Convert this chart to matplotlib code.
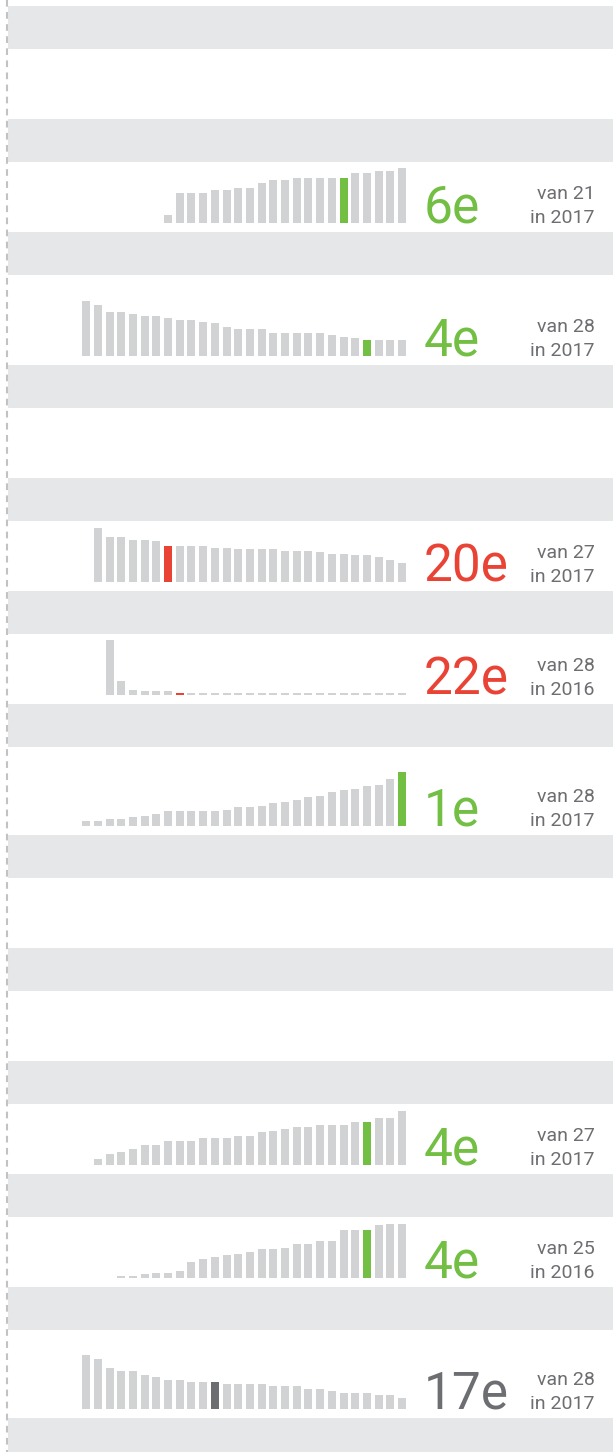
import matplotlib
matplotlib.use("Agg")
import matplotlib.pyplot as plt

# ---- data -----------------------------------------------------------------
# bar heights per ranking (relative units), leftmost = lowest rank number from the right
rank_6e_van21 = [23, 89, 89, 89, 98, 98, 104, 104, 119, 128, 128, 134, 134, 134, 134,
                 134, 149, 149, 155, 155, 164]
rank_4e_van28 = [164, 152, 131, 131, 125, 119, 119, 113, 107, 107, 101, 98, 86, 80, 80,
                 80, 68, 68, 68, 68, 68, 62, 56, 53, 47, 47, 47, 47]
rank_20e_van27 = [162, 135, 135, 126, 126, 123, 108, 108, 108, 108, 102, 102, 99, 99, 99,
                  99, 93, 93, 93, 90, 84, 84, 81, 81, 75, 66, 57]
rank_22e_van28 = [164, 41, 14, 11, 11, 11, 5, 5, 5, 5, 5, 5, 5, 5, 5, 5, 5, 5, 5, 5, 5,
                  5, 5, 5, 5, 5]
rank_1e_van28 = [14, 14, 20, 20, 26, 29, 35, 44, 44, 44, 44, 44, 47, 56, 56, 59, 68, 71,
                 77, 86, 89, 101, 107, 110, 119, 122, 140, 161]
rank_4e_van27 = [18, 33, 39, 48, 60, 60, 72, 72, 72, 81, 81, 81, 87, 87, 99, 102, 108,
                 114, 114, 120, 120, 120, 129, 129, 141, 141, 162]
rank_4e_van25 = [5, 5, 11, 14, 14, 20, 47, 56, 62, 68, 71, 77, 86, 86, 89, 101, 101, 110,
                 110, 143, 143, 143, 158, 161, 161]
rank_17e_van28 = [161, 149, 122, 113, 113, 101, 95, 86, 86, 80, 80, 80, 74, 74, 74, 74,
                  68, 68, 68, 59, 59, 53, 47, 47, 47, 41, 41, 32]

series = [rank_6e_van21, rank_4e_van28, rank_20e_van27, rank_22e_van28,
          rank_1e_van28, rank_4e_van27, rank_4e_van25, rank_17e_van28]
highlight_idx = [15, 24, 6, 6, 27, 23, 21, 11]
rank_labels = ["6e", "4e", "20e", "22e", "1e", "4e", "4e", "17e"]
totals = [21, 28, 27, 28, 28, 27, 25, 28]
years = [2017, 2017, 2017, 2016, 2017, 2017, 2016, 2017]
status = ["good", "good", "bad", "bad", "good", "good", "good", "neutral"]
# which white row (0-based, between the grey bands) each ranking sits in
row_slot = [1, 2, 4, 5, 6, 9, 10, 11]

# ---- style ----------------------------------------------------------------
BAND = "#e6e7e8"
BAR = "#d1d2d4"
TEXT = "#6d6e71"
STATUS_COLOR = {"good": "#72bf44", "bad": "#e94335", "neutral": "#6d6e71"}
plt.rcParams["font.family"] = ["Roboto", "DejaVu Sans"]

W, H = 613, 1452
fig = plt.figure(figsize=(W / 100, H / 100), dpi=100)
fig.patch.set_facecolor("white")

bg = fig.add_axes([0, 0, 1, 1])
bg.set_xlim(0, W)
bg.set_ylim(H, 0)
bg.axis("off")

# grey separator bands and the white rows between them
band_tops = [6, 119, 232, 365, 478, 591, 704, 835, 948, 1061, 1174, 1287, 1418]
band_h = 43
for t in band_tops:
    bg.axhspan(t, t + band_h, xmin=8 / W, xmax=1, color=BAND, lw=0, zorder=0)
row_ends = band_tops[1:]

# dashed guide line on the left edge
bg.plot([6.5, 6.5], [0, H], color="#c2c2c2", lw=1.5,
        linestyle=(0, (3.2, 2.6)), solid_capstyle="butt", zorder=1)

# sparkline geometry (pixels)
PITCH = 11.7
BAR_W = 8.0
RIGHT = 406.0
N_SLOTS = 28
AX_H = 56.0
UNIT = 3.0  # value units per pixel of bar height

ax_left = RIGHT - BAR_W / 2 - (N_SLOTS - 1) * PITCH - PITCH / 2
ax_width = N_SLOTS * PITCH

for vals, hi, lab, tot, yr, st, slot in zip(series, highlight_idx, rank_labels,
                                            totals, years, status, row_slot):
    base = row_ends[slot] - 9.3
    ax = fig.add_axes([ax_left / W, (H - base) / H, ax_width / W, AX_H / H])
    ax.set_xlim(-0.5, N_SLOTS - 0.5)
    ax.set_ylim(0, AX_H * UNIT)
    ax.axis("off")
    n = len(vals)
    xs = list(range(N_SLOTS - n, N_SLOTS))
    colors = [BAR] * n
    colors[hi] = STATUS_COLOR[st]
    ax.bar(xs, vals, width=BAR_W / PITCH, color=colors, linewidth=0, align="center")

    bg.text(424, base, lab, ha="left", va="baseline", fontsize=37,
            fontweight="normal", color=STATUS_COLOR[st])
    bg.text(595, base - 23.7, f"van {tot}", ha="right", va="baseline",
            fontsize=14, color=TEXT)
    bg.text(595, base, f"in {yr}", ha="right", va="baseline",
            fontsize=14, color=TEXT)

fig.savefig("out.png", dpi=100, facecolor="white")
